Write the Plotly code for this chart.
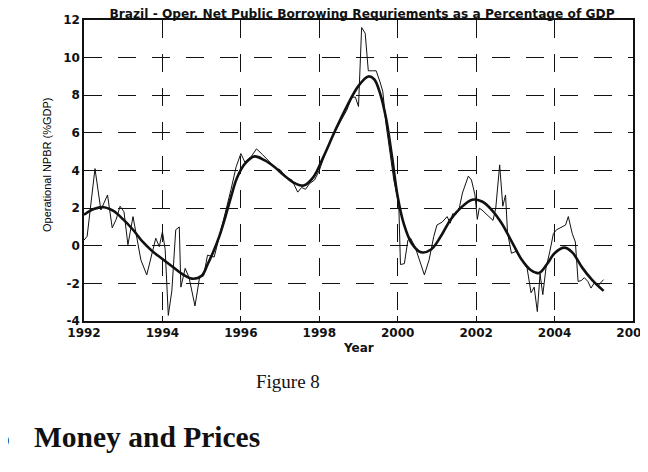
import plotly.graph_objects as go

# Raw operational NPBR (% GDP)
raw_year = [1992.00, 1992.08, 1992.28, 1992.43, 1992.60, 1992.72, 1992.82, 1992.92, 1993.02, 1993.12,
            1993.25, 1993.45, 1993.60, 1993.83, 1993.92, 1994.00, 1994.07, 1994.15, 1994.24, 1994.34,
            1994.43, 1994.47, 1994.58, 1994.68, 1994.83, 1994.95, 1995.05, 1995.15, 1995.32, 1995.50,
            1995.62, 1995.75, 1995.88, 1996.00, 1996.10, 1996.25, 1996.40, 1996.55, 1996.75, 1996.90,
            1997.00, 1997.15, 1997.30, 1997.45, 1997.55, 1997.65, 1997.75, 1997.88, 1998.00, 1998.15,
            1998.35, 1998.55, 1998.70, 1998.83, 1998.92, 1999.00, 1999.08, 1999.17, 1999.25, 1999.35,
            1999.45, 1999.55, 1999.62, 1999.70, 1999.80, 1999.90, 2000.00, 2000.03, 2000.07, 2000.17,
            2000.26, 2000.33, 2000.45, 2000.55, 2000.68, 2000.80, 2000.92, 2001.00, 2001.13, 2001.26,
            2001.34, 2001.40, 2001.48, 2001.56, 2001.65, 2001.80, 2001.88, 2001.97, 2002.03, 2002.08,
            2002.15, 2002.25, 2002.34, 2002.43, 2002.50, 2002.60, 2002.68, 2002.75, 2002.80, 2002.90,
            2003.02, 2003.17, 2003.30, 2003.40, 2003.48, 2003.56, 2003.63, 2003.70, 2003.78, 2003.88,
            2003.97, 2004.05, 2004.17, 2004.28, 2004.35, 2004.45, 2004.53, 2004.60, 2004.68, 2004.76,
            2004.85, 2004.93, 2005.02, 2005.12, 2005.25]
raw_npbr = [0.3, 0.5, 4.1, 1.9, 2.7, 0.95, 1.4, 2.1, 1.8, 0.05,
            1.55, -0.75, -1.55, 0.4, -0.05, 0.75, -0.2, -3.7, -2.4, 0.85,
            1.0, -2.2, -1.2, -1.7, -3.2, -1.65, -1.6, -0.5, -0.6, 1.0,
            1.9, 3.0, 4.2, 4.9, 4.45, 4.7, 5.15, 4.85, 4.4, 4.1,
            4.05, 3.65, 3.5, 2.85, 3.1, 3.0, 3.3, 3.5, 4.0, 4.9,
            5.9, 6.6, 7.2, 7.9, 7.9, 7.4, 11.6, 11.3, 9.3, 9.3,
            9.3, 8.7, 8.2, 6.5, 5.0, 3.5, 2.5, 2.0, -1.0, -0.95,
            0.3, 0.4, -0.1, -0.7, -1.55, -0.75, 0.5, 1.1, 1.25, 1.55,
            1.2, 1.7, 1.65, 1.9, 2.8, 3.7, 3.5, 2.7, 1.4, 2.0,
            1.9, 1.7, 1.55, 1.35, 2.0, 4.3, 2.1, 2.7, 0.7, -0.4,
            -0.3, -0.75, -1.2, -2.5, -2.2, -3.5, -1.5, -2.6, -1.2, -0.3,
            0.65, 0.85, 1.0, 1.1, 1.55, 0.65, 0.2, -1.9, -1.85, -1.7,
            -1.9, -2.25, -1.95, -2.1, -1.8]

# Smoothed trend
trend_year = [1992.0, 1992.25, 1992.5, 1992.75, 1993.0, 1993.25, 1993.5, 1993.75, 1994.0, 1994.25,
              1994.5, 1994.75, 1995.0, 1995.15, 1995.3, 1995.45, 1995.6, 1995.75, 1995.9, 1996.1,
              1996.35, 1996.6, 1996.85, 1997.1, 1997.35, 1997.6, 1997.85, 1998.1, 1998.4, 1998.7,
              1999.0, 1999.25, 1999.4, 1999.55, 1999.7, 1999.85, 2000.0, 2000.15, 2000.35, 2000.6,
              2000.85, 2001.1, 2001.35, 2001.6, 2001.9, 2002.15, 2002.4, 2002.65, 2002.9, 2003.15,
              2003.4, 2003.6, 2003.8, 2004.0, 2004.25, 2004.45, 2004.7, 2004.95, 2005.25]
trend_npbr = [1.65, 1.95, 2.05, 1.85, 1.4, 0.85, 0.2, -0.3, -0.7, -1.1,
              -1.5, -1.75, -1.6, -1.0, -0.3, 0.5, 1.5, 2.6, 3.6, 4.35,
              4.75, 4.55, 4.2, 3.75, 3.35, 3.2, 3.65, 4.7, 6.1, 7.4,
              8.5, 9.0, 8.85, 8.1, 6.8, 4.8, 2.6, 1.2, 0.15, -0.35,
              -0.2, 0.5, 1.4, 2.0, 2.45, 2.35, 1.9, 1.2, 0.25, -0.7,
              -1.3, -1.45, -1.0, -0.4, -0.1, -0.35, -1.15, -1.8, -2.4]

x_ticks = [1992, 1994, 1996, 1998, 2000, 2002, 2004, 2006]
y_ticks = [-4, -2, 0, 2, 4, 6, 8, 10, 12]

# The page body has an 8px margin; the figure is sized to fill the rest of the 648x472 window.
OFF = 8
W, H = 648 - OFF, 472 - OFF
# plot area in screen pixels
SX0, SX1, SY0, SY1 = 84, 633, 20, 321
L, R, T, B = SX0 - OFF, W - (SX1 - OFF), SY0 - OFF, H - (SY1 - OFF)
PW, PH = W - L - R, H - T - B


def px(xs):
    return (xs - OFF - L) / PW


def py(ys):
    return (H - B - (ys - OFF)) / PH


fig = go.Figure()
fig.add_trace(go.Scatter(x=raw_year, y=raw_npbr, mode="lines",
                         line=dict(color="#111111", width=1), showlegend=False))
fig.add_trace(go.Scatter(x=trend_year, y=trend_npbr, mode="lines",
                         line=dict(color="#111111", width=2.6, shape="spline", smoothing=1.0),
                         showlegend=False))

tickfont = dict(family="DejaVu Sans", size=12, color="#111111", weight="bold")
axis_common = dict(showline=True, linecolor="#111111", linewidth=1.5, mirror="ticks",
                   ticks="inside", ticklen=5, tickcolor="#111111", tickwidth=1,
                   showgrid=True, gridcolor="#111111", gridwidth=1, griddash="18px,16px",
                   zeroline=False, tickfont=tickfont, ticklabeloverflow="allow")

fig.update_xaxes(range=[1992, 2006], tickvals=x_ticks, ticktext=[str(v) for v in x_ticks], **axis_common)
fig.update_yaxes(range=[-4, 12], tickvals=y_ticks, ticktext=[str(v) for v in y_ticks], **axis_common)

fig.update_layout(
    width=W, height=H,
    margin=dict(l=L, r=R, t=T, b=B, pad=0, autoexpand=False),
    paper_bgcolor="white", plot_bgcolor="white",
    title=dict(text="<b>Brazil - Oper. Net Public Borrowing Requriements as a Percentage of GDP</b>",
               font=dict(family="DejaVu Sans", size=12.2, color="#111111"),
               xref="paper", x=px(362), xanchor="center",
               yref="container", y=1 - (13.5 - OFF) / H, yanchor="middle"),
    annotations=[
        dict(text="<b>Year</b>", x=px(358), y=py(348), xref="paper", yref="paper",
             showarrow=False, xanchor="center", yanchor="middle",
             font=dict(family="DejaVu Sans", size=12, color="#111111")),
        dict(text="Operational NPBR (%GDP)", x=px(47), y=py(165), xref="paper", yref="paper",
             showarrow=False, textangle=-90, xanchor="center", yanchor="middle",
             font=dict(family="Liberation Sans, Arial, sans-serif", size=11, color="#000000")),
        dict(text="Figure 8", x=px(288), y=py(381), xref="paper", yref="paper",
             showarrow=False, xanchor="center", yanchor="middle",
             font=dict(family="Liberation Serif", size=19, color="#111111")),
        dict(text="<b>Money and Prices</b>", x=px(32), y=py(437), xref="paper", yref="paper",
             showarrow=False, xanchor="left", yanchor="middle",
             font=dict(family="Liberation Serif", size=29.5, color="#111111")),
        dict(text="<b>5</b>", x=px(12), y=py(437), xref="paper", yref="paper",
             showarrow=False, xanchor="right", yanchor="middle",
             font=dict(family="Liberation Serif", size=29.5, color="#111111")),
    ],
)

fig.write_html("out.html")
